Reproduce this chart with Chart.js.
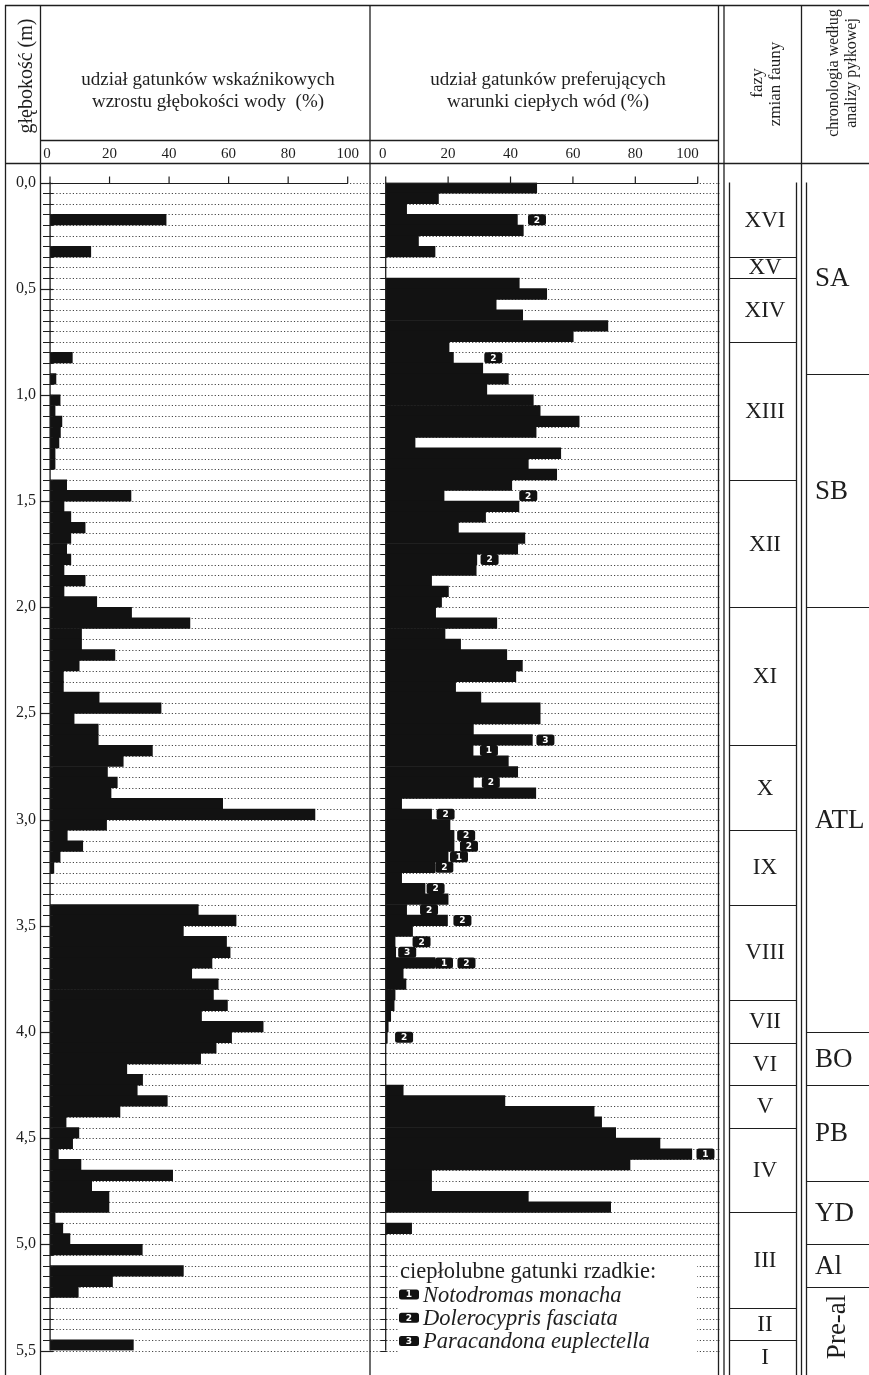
<!DOCTYPE html>
<html><head><meta charset="utf-8">
<script src="https://cdn.jsdelivr.net/npm/chart.js@4.4.1/dist/chart.umd.min.js"></script>
<style>html,body{margin:0;padding:0;background:#fff;}canvas{display:block;}</style>
</head><body>
<canvas id="c" width="869" height="1375"></canvas>
<script>
// ---------- DATA ----------
const ROW_STEP = 0.05; // sample thickness (m)
// % of species indicating deepening of water, one value per 0.05 m sample from 0.00 m
const deepWaterPct = [
  0,0,0,39,0,0,13.7,0,0,0,
  0,0,0,0,0,0,7.5,0,2,0,
  3.4,1.7,4,3.5,3,1.7,1.7,0,5.6,27.2,
  4.7,7,11.8,7,5.6,7,4.7,11.8,4.7,15.7,
  27.4,47,10.6,10.6,21.8,9.8,4.5,4.5,16.5,37.3,
  8.1,16.2,16.2,34.4,24.6,19.3,22.6,20.5,58,89,
  19,5.8,11,3.4,1.3,0,0,0,49.8,62.5,
  44.8,59.3,60.5,54.4,47.6,56.5,54.9,59.6,50.9,71.6,
  61,55.8,50.6,25.8,31.1,29.3,39.4,23.5,5.4,9.7,
  7.6,2.8,10.4,41.2,14,19.8,19.8,1.7,4.3,6.7,
  31,0,44.8,21,9.5,0,0,0,0,28
];
// % of species preferring warm water
const warmWaterPct = [
  48.4,16.9,6.7,42.2,44.1,10.5,15.8,0,0,42.8,
  51.6,35.4,43.9,71.2,60.1,20.3,21.7,31.1,39.3,32.4,
  47.3,49.5,62,48.2,9.4,56.1,45.7,54.8,40.4,18.7,
  42.7,32,23.3,44.6,42.3,29.2,29,14.7,20.1,17.9,
  16,35.6,19,24,38.8,43.8,41.7,22.4,30.5,49.5,
  49.5,28.1,47,28,39.3,42.3,28.1,48.1,5.1,14.7,
  20.6,21.9,21.9,20,15.8,5.1,12.6,20,6.7,19.8,
  8.6,3,3.2,15.8,5.6,6.5,3,2.7,1.6,0.8,
  0.5,0,0,0,0,5.6,38.2,66.8,69.2,73.7,
  87.9,98.1,78.3,14.7,14.7,45.7,72.1,0,8.3,0,
  0,0,0,0,0,0,0,0,0,0
];
// rare thermophilous species markers: sample row, species number, position (% axis)
const markerRows    = [3,16,29,35,52,53,56,59,61,62,63,64,66,68,69,71,72,73,73,80,91];
const markerSpecies = [2,2,2,2,3,1,2,2,2,2,1,2,2,2,2,2,3,1,2,2,1];
const markerPos     = [45.6,31.6,42.8,30.4,48.3,30.2,30.8,16.3,22.9,23.8,20.6,15.9,13.1,11,21.7,8.6,4,15.8,23,3,99.6];

const percentTicks = [0,20,40,60,80,100];
const depthTickValues = [0,0.5,1,1.5,2,2.5,3,3.5,4,4.5,5,5.5];
const depthTickLabels = ['0,0','0,5','1,0','1,5','2,0','2,5','3,0','3,5','4,0','4,5','5,0','5,5'];

const phaseLabels = ['XVI','XV','XIV','XIII','XII','XI','X','IX','VIII','VII','VI','V','IV','III','II','I'];
const phaseBounds = [0,0.35,0.45,0.75,1.40,2.00,2.65,3.05,3.40,3.85,4.05,4.25,4.45,4.85,5.30,5.45,5.62];
const chronoLabels = ['SA','SB','ATL','BO','PB','YD','Al','Pre-al'];
const chronoBounds = [0,0.90,2.00,4.00,4.25,4.70,5.00,5.20,5.62];

const legendTitle = 'ciepłolubne gatunki rzadkie:';
const legendSpecies = ['Notodromas monacha','Dolerocypris fasciata','Paracandona euplectella'];

const titleDeep = ['udział gatunków wskaźnikowych','wzrostu głębokości wody  (%)'];
const titleWarm = ['udział gatunków preferujących','warunki ciepłych wód (%)'];
const depthTitle = 'głębokość (m)';
const phaseTitle = ['fazy','zmian fauny'];
const chronoTitle = ['chronologia według','analizy pyłkowej'];

// ---------- DRAWING ----------
const SERIF = '"Liberation Serif", "Times New Roman", serif';
const INK = '#1e1e1e';
const W = 869, H = 1375;

function rrect(ctx, x, y, w, h, r) {
  ctx.beginPath();
  ctx.moveTo(x + r, y);
  ctx.lineTo(x + w - r, y); ctx.quadraticCurveTo(x + w, y, x + w, y + r);
  ctx.lineTo(x + w, y + h - r); ctx.quadraticCurveTo(x + w, y + h, x + w - r, y + h);
  ctx.lineTo(x + r, y + h); ctx.quadraticCurveTo(x, y + h, x, y + h - r);
  ctx.lineTo(x, y + r); ctx.quadraticCurveTo(x, y, x + r, y);
  ctx.closePath();
}
function marker(ctx, x, yc, n, w, h) {
  ctx.fillStyle = '#111';
  rrect(ctx, x, yc - h / 2, w, h, 2.5); ctx.fill();
  ctx.fillStyle = '#fff';
  ctx.font = 'bold 9px "DejaVu Sans", sans-serif';
  ctx.textAlign = 'center'; ctx.textBaseline = 'middle';
  ctx.fillText(String(n), x + w / 2, yc + 0.5);
}
function line(ctx, x1, y1, x2, y2) {
  ctx.beginPath(); ctx.moveTo(x1, y1); ctx.lineTo(x2, y2); ctx.stroke();
}
function vtext(ctx, txt, x, y, font) {
  ctx.save(); ctx.translate(x, y); ctx.rotate(-Math.PI / 2);
  ctx.font = font; ctx.textAlign = 'center'; ctx.textBaseline = 'middle';
  ctx.fillText(txt, 0, 0); ctx.restore();
}

const diagramPlugin = {
  id: 'diagram',
  beforeDatasetsDraw(chart) {
    const {ctx, chartArea: a, scales: {y}} = chart;
    ctx.save();
    ctx.strokeStyle = '#454545'; ctx.lineWidth = 1; ctx.setLineDash([1.2, 2.1]);
    for (let i = 0; i <= deepWaterPct.length; i++) {
      const py = Math.round(y.getPixelForValue(i * ROW_STEP)) + 0.5;
      line(ctx, a.left + 3, py, a.right, py);
    }
    ctx.restore();
  },
  afterDatasetsDraw(chart) {
    const {ctx, scales: {y, x1, x2}} = chart;
    ctx.save();
    ctx.strokeStyle = INK; ctx.fillStyle = INK; ctx.lineWidth = 1.2;
    const y0 = y.getPixelForValue(0), yEnd = y.getPixelForValue(5.5);
    // depth axes
    const ax1 = x1.getPixelForValue(0), ax2 = x2.getPixelForValue(0);
    line(ctx, ax1, y0, ax1, yEnd);
    line(ctx, ax2, y0, ax2, yEnd);
    ctx.lineWidth = 1;
    for (let i = 1; i <= deepWaterPct.length; i++) {
      const py = Math.round(y.getPixelForValue(i * ROW_STEP)) + 0.5;
      line(ctx, ax1 - 7, py, ax1 + 3, py);
      line(ctx, ax2 - 5, py, ax2 + 1, py);
    }
    ctx.lineWidth = 1.2;
    depthTickValues.forEach((d, i) => {
      const py = Math.round(y.getPixelForValue(d)) + 0.5;
      line(ctx, 40, py, ax1 + 3, py);
      ctx.font = '16px ' + SERIF; ctx.textAlign = 'right'; ctx.textBaseline = 'middle';
      ctx.fillText(depthTickLabels[i], 36, py - 1);
    });
    // top percent axes
    [[x1, 'c'], [x2, 'r']].forEach(([sc, mode]) => {
      const py = Math.round(y0) + 0.5;
      line(ctx, sc.getPixelForValue(0), py, sc.getPixelForValue(100), py);
      percentTicks.forEach((t, i) => {
        const px = sc.getPixelForValue(t);
        line(ctx, px, py, px, py - 7);
        ctx.font = '15px ' + SERIF; ctx.textBaseline = 'alphabetic';
        const last = i === percentTicks.length - 1;
        ctx.textAlign = (mode === 'r' && last) ? 'right' : 'center';
        ctx.fillText(String(t), (mode === 'r' && last) ? px + 1 : px - (i === 0 ? 3 : 0), 158);
      });
    });
    // rare species markers
    markerRows.forEach((r, i) => {
      const yc = y.getPixelForValue((r + 0.5) * ROW_STEP);
      marker(ctx, x2.getPixelForValue(markerPos[i]), yc, markerSpecies[i], 18, 11);
    });
    // legend
    ctx.fillStyle = '#fff';
    ctx.fillRect(398, 1257, 299, 97);
    ctx.fillStyle = INK;
    ctx.font = '22.5px ' + SERIF; ctx.textAlign = 'left'; ctx.textBaseline = 'alphabetic';
    ctx.fillText(legendTitle, 400, 1278);
    legendSpecies.forEach((s, i) => {
      const base = 1301.5 + i * 23.3;
      marker(ctx, 399, base - 7, i + 1, 20, 10);
      ctx.fillStyle = INK;
      ctx.font = 'italic 22.5px ' + SERIF; ctx.textAlign = 'left'; ctx.textBaseline = 'alphabetic';
      ctx.fillText(s, 423, base);
    });
    ctx.restore();
  },
  afterDraw(chart) {
    const {ctx, scales: {y}} = chart;
    ctx.save();
    ctx.strokeStyle = INK; ctx.fillStyle = INK; ctx.lineWidth = 1.3;
    const y0 = y.getPixelForValue(0);
    // frame
    line(ctx, 5, 5.5, W, 5.5);
    line(ctx, 5.5, 5, 5.5, H);
    line(ctx, 40.5, 5, 40.5, H);
    line(ctx, 370, 5, 370, H);
    line(ctx, 718.5, 5, 718.5, H);
    line(ctx, 724, 5, 724, H);
    line(ctx, 801.5, 5, 801.5, H);
    line(ctx, 40, 140.5, 718.5, 140.5);
    line(ctx, 5, 163.5, W, 163.5);
    // header texts
    ctx.textAlign = 'center'; ctx.textBaseline = 'alphabetic';
    ctx.font = '19px ' + SERIF;
    ctx.fillText(titleDeep[0], 208, 85);
    ctx.fillText(titleDeep[1], 208, 107);
    ctx.fillText(titleWarm[0], 548, 85);
    ctx.fillText(titleWarm[1], 548, 107);
    vtext(ctx, depthTitle, 27, 76, '20px ' + SERIF);
    vtext(ctx, phaseTitle[0], 757.5, 83, '17px ' + SERIF);
    vtext(ctx, phaseTitle[1], 775.5, 84, '17px ' + SERIF);
    vtext(ctx, chronoTitle[0], 834, 73, '16px ' + SERIF);
    vtext(ctx, chronoTitle[1], 851.5, 73, '16px ' + SERIF);
    // phase column
    const pL = 729.5, pR = 796.5;
    line(ctx, pL, y0, pL, H);
    line(ctx, pR, y0, pR, H);
    ctx.lineWidth = 1.2;
    phaseLabels.forEach((lab, i) => {
      const t = y.getPixelForValue(phaseBounds[i]);
      const b = Math.min(H, y.getPixelForValue(phaseBounds[i + 1]));
      if (i > 0) line(ctx, pL, Math.round(t) + 0.5, pR, Math.round(t) + 0.5);
      ctx.font = '23px ' + SERIF; ctx.textAlign = 'center'; ctx.textBaseline = 'middle';
      ctx.fillText(lab, (pL + pR) / 2 + 2, (t + b) / 2 + 1);
    });
    // chronology column
    ctx.lineWidth = 1.3;
    line(ctx, 806.5, y0, 806.5, H);
    ctx.lineWidth = 1.2;
    chronoLabels.forEach((lab, i) => {
      const t = y.getPixelForValue(chronoBounds[i]);
      const b = Math.min(H, y.getPixelForValue(chronoBounds[i + 1]));
      if (i > 0) line(ctx, 806.5, Math.round(t) + 0.5, W, Math.round(t) + 0.5);
      if (lab === 'Pre-al') {
        vtext(ctx, lab, 838, (t + b) / 2 - 4, '27px ' + SERIF);
      } else {
        ctx.font = '27px ' + SERIF; ctx.textAlign = 'left'; ctx.textBaseline = 'middle';
        ctx.fillText(lab, 815, (t + b) / 2 + 1);
      }
    });
    ctx.restore();
  }
};

const rows = deepWaterPct.map((_, i) => (i + 0.5) * ROW_STEP);

new Chart(document.getElementById('c'), {
  type: 'bar',
  data: {
    datasets: [
      {
        label: 'deep', xAxisID: 'x1', yAxisID: 'y',
        data: rows.map((d, i) => ({x: deepWaterPct[i], y: d})),
        backgroundColor: '#121212', borderWidth: 0,
        barPercentage: 1, categoryPercentage: 1, grouped: false
      },
      {
        label: 'warm', xAxisID: 'x2', yAxisID: 'y',
        data: rows.map((d, i) => ({x: warmWaterPct[i], y: d})),
        backgroundColor: '#121212', borderWidth: 0,
        barPercentage: 1, categoryPercentage: 1, grouped: false
      }
    ]
  },
  options: {
    indexAxis: 'y',
    responsive: false,
    animation: false,
    devicePixelRatio: 1,
    layout: {padding: {left: 50, right: 149, top: 182.5, bottom: 24.5}},
    scales: {
      y: {type: 'linear', min: 0, max: 5.5, reverse: true, display: false, offset: false},
      x1: {type: 'linear', min: 0, max: 225.06, display: false, offset: false},
      x2: {type: 'linear', min: -107.6, max: 107.14, display: false, offset: false}
    },
    plugins: {legend: {display: false}, tooltip: {enabled: false}}
  },
  plugins: [diagramPlugin]
});
</script>
</body></html>
